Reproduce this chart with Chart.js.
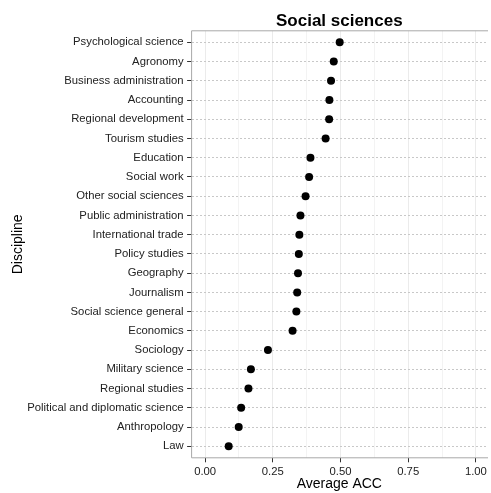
<!DOCTYPE html>
<html lang="en">
<head>
<meta charset="UTF-8">
<title>Social sciences</title>
<style>
  html, body { margin: 0; padding: 0; overflow: hidden; background: #fff; }
  #wrap { width: 491px; height: 493px; }
</style>
</head>
<body>
<div id="wrap"><canvas id="myChart" width="491" height="493"></canvas></div>

<script src="https://cdn.jsdelivr.net/npm/chart.js@4/dist/chart.umd.min.js"></script>
<script>
// data, top to bottom
var disciplines = [
  'Psychological science', 'Agronomy', 'Business administration', 'Accounting',
  'Regional development', 'Tourism studies', 'Education', 'Social work',
  'Other social sciences', 'Public administration', 'International trade',
  'Policy studies', 'Geography', 'Journalism', 'Social science general',
  'Economics', 'Sociology', 'Military science', 'Regional studies',
  'Political and diplomatic science', 'Anthropology', 'Law'
];
var avgAcc = [
  0.497, 0.475, 0.465, 0.459, 0.458, 0.445, 0.389, 0.384, 0.371, 0.352, 0.348,
  0.346, 0.343, 0.340, 0.337, 0.323, 0.232, 0.169, 0.160, 0.133, 0.124, 0.087
];
var majorTicks = [0, 0.25, 0.5, 0.75, 1];
var majorLabels = ['0.00', '0.25', '0.50', '0.75', '1.00'];
var minorTicks = [0.125, 0.375, 0.625, 0.875];

Chart.defaults.font.family = "'Liberation Sans', Arial, Helvetica, sans-serif";

function isMajor(v) {
  return majorTicks.indexOf(v) !== -1;
}

// panel frame like ggplot theme_bw (right side is cut off by the window)
var panelBorder = {
  id: 'panelBorder',
  afterDraw: function(chart) {
    var a = chart.chartArea, c = chart.ctx;
    c.save();
    c.strokeStyle = '#a8a8a8';
    c.lineWidth = 1;
    c.beginPath();
    c.moveTo(a.right + 1, a.top);
    c.lineTo(a.left, a.top);
    c.lineTo(a.left, a.bottom);
    c.lineTo(a.right + 1, a.bottom);
    c.stroke();
    c.restore();
  }
};

var ctx = document.getElementById('myChart').getContext('2d');
var chart = new Chart(ctx, {
  type: 'scatter',
  data: {
    datasets: [{
      label: 'Average ACC',
      data: avgAcc.map(function(v, i) { return {x: v, y: i}; }),
      backgroundColor: '#000',
      borderWidth: 0,
      pointRadius: 4,
      pointHoverRadius: 4
    }]
  },
  options: {
    responsive: false,
    animation: false,
    layout: { padding: 0 },
    plugins: {
      legend: { display: false },
      tooltip: { enabled: false },
      title: {
        display: true,
        text: 'Social sciences',
        color: '#000',
        fullSize: false,
        font: { size: 17, weight: 'bold', lineHeight: 1 },
        padding: { top: 12.5, bottom: 1.3 }
      }
    },
    scales: {
      x: {
        type: 'linear',
        min: -0.05,
        max: 1.0411,
        afterBuildTicks: function(scale) {
          scale.ticks = majorTicks.concat(minorTicks).sort().map(function(v) { return {value: v}; });
        },
        afterFit: function(scale) {
          scale.height = 35.2;
          scale.paddingLeft = 0;
          scale.paddingRight = 0;
        },
        ticks: {
          color: '#222',
          font: { size: 11.3 },
          padding: 2.7,
          maxRotation: 0,
          autoSkip: false,
          callback: function(v) {
            var k = majorTicks.indexOf(v);
            return k === -1 ? '' : majorLabels[k];
          }
        },
        grid: {
          color: function(c) { return isMajor(c.tick.value) ? '#ebebeb' : '#f3f3f3'; },
          tickColor: function(c) { return isMajor(c.tick.value) ? '#333' : 'rgba(0,0,0,0)'; },
          tickLength: 4.5
        },
        border: { display: false },
        title: {
          display: true,
          text: 'Average ACC',
          color: '#000',
          font: { size: 14 },
          padding: { top: 0, bottom: 0.6 }
        }
      },
      y: {
        type: 'linear',
        reverse: true,
        min: -0.6,
        max: disciplines.length - 0.4,
        afterBuildTicks: function(scale) {
          scale.ticks = disciplines.map(function(d, i) { return {value: i}; });
        },
        afterFit: function(scale) {
          scale.width = 191.6;
          scale.paddingTop = 0;
          scale.paddingBottom = 0;
        },
        ticks: {
          color: '#222',
          font: { size: 11.3 },
          padding: 3.5,
          autoSkip: false,
          callback: function(v) { return disciplines[v]; }
        },
        grid: {
          color: '#c8c8c8',
          tickColor: '#333',
          tickLength: 4.5
        },
        border: { display: false, dash: [2, 2] },
        title: {
          display: true,
          text: 'Discipline',
          color: '#000',
          font: { size: 14 },
          padding: { top: 9.6, bottom: 0 }
        }
      }
    }
  },
  plugins: [panelBorder]
});
</script>
</body>
</html>
